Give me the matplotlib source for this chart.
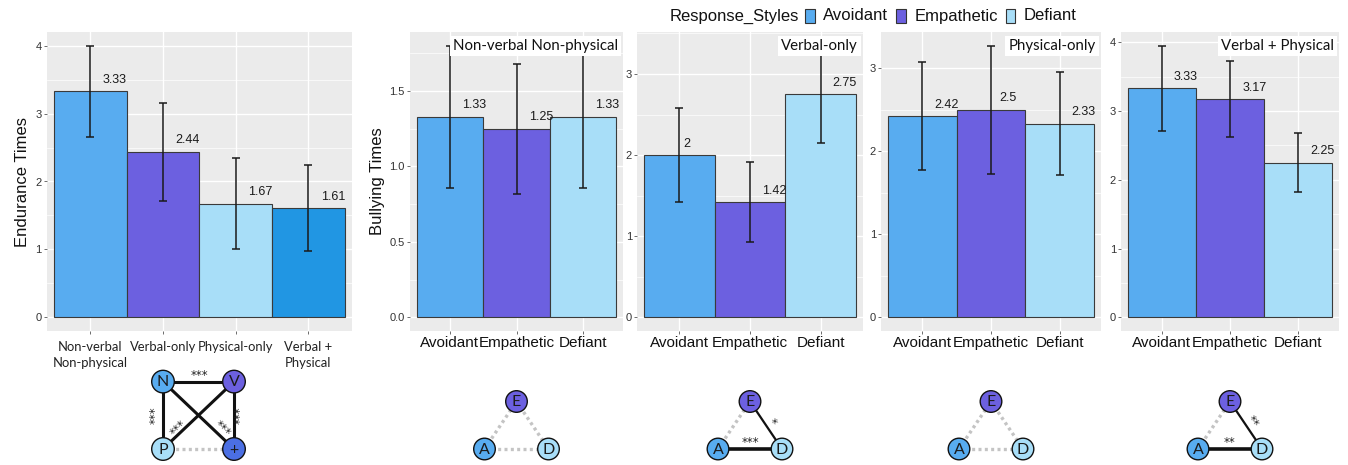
import matplotlib
matplotlib.use("Agg")
import matplotlib.pyplot as plt
from matplotlib.patches import Circle, Rectangle
from matplotlib.font_manager import FontProperties
from matplotlib.ticker import FixedLocator, FuncFormatter
import numpy as np

# ---------------- data ----------------
endurance_labels = ["Non-verbal\nNon-physical", "Verbal-only", "Physical-only", "Verbal +\nPhysical"]
endurance_means = [3.33, 2.44, 1.67, 1.61]
endurance_errors = [0.67, 0.72, 0.67, 0.64]

response_styles = ["Avoidant", "Empathetic", "Defiant"]
bullying_panels = ["Non-verbal Non-physical", "Verbal-only", "Physical-only", "Verbal + Physical"]
nn_means = [1.33, 1.25, 1.33]
nn_errors = [0.47, 0.43, 0.47]
vo_means = [2, 1.42, 2.75]
vo_errors = [0.58, 0.49, 0.60]
po_means = [2.42, 2.5, 2.33]
po_errors = [0.65, 0.77, 0.62]
vp_means = [3.33, 3.17, 2.25]
vp_errors = [0.62, 0.55, 0.43]
panel1_yticks = [0.0, 0.5, 1.0, 1.5]
panel2_yticks = [0, 1, 2, 3]
panel3_yticks = [0, 1, 2, 3]
panel4_yticks = [0, 1, 2, 3, 4]
endurance_yticks = [0, 1, 2, 3, 4]

endurance_nodes = ["N", "V", "P", "+"]
endurance_sig = [("N", "V", "***"), ("N", "P", "***"), ("V", "+", "***"),
                 ("N", "+", "***"), ("V", "P", "***"), ("P", "+", "")]
style_nodes = ["A", "E", "D"]
nn_sig = [("A", "E", ""), ("E", "D", ""), ("A", "D", "")]
vo_sig = [("A", "E", ""), ("E", "D", "*"), ("A", "D", "***")]
po_sig = [("A", "E", ""), ("E", "D", ""), ("A", "D", "")]
vp_sig = [("A", "E", ""), ("E", "D", "**"), ("A", "D", "**")]

# ---------------- styles ----------------
C_AVO = "#58ACF0"
C_EMP = "#6C60E0"
C_DEF = "#A8DEF8"
C_VP = "#2196E3"
endurance_colors = [C_AVO, C_EMP, C_DEF, C_VP]
style_colors = [C_AVO, C_EMP, C_DEF]
node_colors = {"N": C_AVO, "V": C_EMP, "P": C_DEF, "+": "#4B6FE3",
               "A": C_AVO, "E": C_EMP, "D": C_DEF}
PANEL_BG = "#EBEBEB"
NUM_FONT = "Liberation Sans"
SS_FONT = "Lato"

W, H = 1348, 465
fig = plt.figure(figsize=(W / 100, H / 100), dpi=100)
renderer = fig.canvas.get_renderer()


def px_axes(x0, x1, y0, y1):
    return fig.add_axes([x0 / W, (H - y1) / H, (x1 - x0) / W, (y1 - y0) / H])


def style_axes(ax, yticks, fmt, n):
    ax.set_facecolor(PANEL_BG)
    for s in ax.spines.values():
        s.set_visible(False)
    top = ax.get_ylim()[1]
    ax.yaxis.set_major_locator(FixedLocator(yticks))
    ax.yaxis.set_major_formatter(FuncFormatter(lambda v, p: fmt.format(v)))
    step = yticks[1] - yticks[0]
    minors = [t + step / 2 for t in yticks + [yticks[-1] + step] if 0 < t + step / 2 < top]
    ax.yaxis.set_minor_locator(FixedLocator(minors))
    ax.grid(which="major", color="white", linewidth=1.0)
    ax.grid(which="minor", axis="y", color="white", linewidth=0.5)
    ax.set_axisbelow(True)
    ax.tick_params(axis="both", which="major", length=2.2, width=0.6, color="#555555",
                   labelcolor="#333333", pad=1.5)
    ax.tick_params(axis="y", which="minor", length=0)
    ax.set_xlim(-0.6, n - 0.4)


def value_labels(ax, xs, means):
    fp = FontProperties(family=NUM_FONT, size=9)
    for x, m in zip(xs, means):
        s = f"{m:g}"
        w, h, d = renderer.get_text_width_height_descent(s, fp, ismath=False)
        ax.annotate(s, xy=(x, m), xytext=(w, 8.5), textcoords="offset pixels",
                    ha="center", va="baseline", fontproperties=fp, color="#1a1a1a",
                    zorder=5)


def bar_panel(ax, means, errors, colors):
    xs = np.arange(len(means))
    ax.bar(xs, means, width=1.0, color=colors, edgecolor="#3a3a3a", linewidth=0.8, zorder=2)
    ax.errorbar(xs, means, yerr=errors, fmt="none", ecolor="#1a1a1a", elinewidth=1.1,
                capsize=2.6, capthick=1.1, zorder=3)
    top = max(m + e for m, e in zip(means, errors))
    ax.set_ylim(-0.05 * top, 1.05 * top)
    return xs


# ---------------- left panel ----------------
axL = px_axes(46.7, 352, 32, 331)
xs = bar_panel(axL, endurance_means, endurance_errors, endurance_colors)
style_axes(axL, endurance_yticks, "{:g}", 4)
axL.set_xticks(xs)
axL.set_xticklabels(endurance_labels, fontfamily=SS_FONT, fontsize=9.4, color="#222222",
                    linespacing=1.4, va="top")
axL.tick_params(axis="x", pad=5)
for lab in axL.get_yticklabels():
    lab.set_fontfamily(NUM_FONT)
    lab.set_fontsize(8)
value_labels(axL, xs, endurance_means)
axL.set_ylabel("Endurance Times", fontfamily=NUM_FONT, fontsize=12, labelpad=4, color="#111111")

# ---------------- right panels ----------------
panel_px = [(410, 623), (637, 863), (881, 1101), (1121, 1339)]
panel_means = [nn_means, vo_means, po_means, vp_means]
panel_errors = [nn_errors, vo_errors, po_errors, vp_errors]
panel_ticks = [panel1_yticks, panel2_yticks, panel3_yticks, panel4_yticks]
panel_fmts = ["{:.1f}", "{:g}", "{:g}", "{:g}"]
panel_axes = []
for i, (x0, x1) in enumerate(panel_px):
    ax = px_axes(x0, x1, 32, 331)
    xs = bar_panel(ax, panel_means[i], panel_errors[i], style_colors)
    style_axes(ax, panel_ticks[i], panel_fmts[i], 3)
    ax.set_xticks(xs)
    ax.set_xticklabels(response_styles, fontfamily=NUM_FONT, fontsize=11, color="#111111")
    for lab in ax.get_yticklabels():
        lab.set_fontfamily(NUM_FONT)
        lab.set_fontsize(8)
    value_labels(ax, xs, panel_means[i])
    ax.annotate(bullying_panels[i], xy=(1, 1), xycoords="axes fraction",
                xytext=(-5, -14), textcoords="offset pixels", ha="right", va="center",
                fontfamily=SS_FONT, fontsize=10.8, color="#111111", zorder=10,
                bbox=dict(boxstyle="square,pad=0.22", fc="white", ec="none"))
    panel_axes.append(ax)
panel_axes[0].set_ylabel("Bullying Times", fontfamily=NUM_FONT, fontsize=12, labelpad=3,
                         color="#111111")

# ---------------- overlay: legend + networks ----------------
ov = fig.add_axes([0, 0, 1, 1])
ov.set_xlim(0, W)
ov.set_ylim(H, 0)
ov.axis("off")
ov.patch.set_visible(False)

lfp = FontProperties(family=NUM_FONT, size=12)
x = 670
ov.text(x, 16, "Response_Styles", fontproperties=lfp, ha="left", va="center", color="#111111")
x += renderer.get_text_width_height_descent("Response_Styles", lfp, ismath=False)[0] + 6
for name, col in zip(response_styles, style_colors):
    ov.add_patch(Rectangle((x, 9.5), 9.5, 14, facecolor=col, edgecolor="#333333", linewidth=0.8))
    x += 18
    ov.text(x, 16, name, fontproperties=lfp, ha="left", va="center", color="#111111")
    x += renderer.get_text_width_height_descent(name, lfp, ismath=False)[0] + 8

STAR_FONT = "DejaVu Sans"


def draw_network(pos, edges, radius, thick):
    for a, b, sig in edges:
        (xa, ya), (xb, yb) = pos[a], pos[b]
        if sig == "":
            ov.plot([xa, xb], [ya, yb], color="#C4C4C4", linewidth=2.4,
                    linestyle=(0, (0.9, 1.0)), solid_capstyle="butt", zorder=1)
        else:
            ov.plot([xa, xb], [ya, yb], color="#111111", linewidth=thick.get((a, b), 2.2),
                    solid_capstyle="butt", zorder=1)
    for name, (cx, cy) in pos.items():
        ov.add_patch(Circle((cx, cy), radius, facecolor=node_colors[name], edgecolor="#111111",
                            linewidth=1.0, zorder=3))
        ov.text(cx, cy + 0.5, name, ha="center", va="center", fontfamily=SS_FONT,
                fontweight="normal", fontsize=11.5, color="#1a1a1a", zorder=4)


def star(x, y, s, rot=0):
    ov.text(x, y, s, ha="center", va="center", fontfamily=STAR_FONT, fontsize=8.5,
            rotation=rot, rotation_mode="anchor", color="#222222", zorder=5)


# endurance network
cx, cy = 198.5, 415.3
epos = {"N": (cx - 35.5, cy - 33.7), "V": (cx + 35.5, cy - 33.7),
        "P": (cx - 35.5, cy + 33.7), "+": (cx + 35.5, cy + 33.7)}
draw_network(epos, endurance_sig, 11.3, {})
sig = {(a, b): s for a, b, s in endurance_sig}
star(cx + 1, cy - 40, sig[("N", "V")])
star(cx - 43, cy, sig[("N", "P")], 90)
star(cx + 42, cy, sig[("V", "+")], 90)
star(cx - 20, cy + 13, sig[("V", "P")], 45)
star(cx + 24, cy + 14, sig[("N", "+")], -45)

# response-style triangles
for (x0, x1), edges in zip(panel_px, [nn_sig, vo_sig, po_sig, vp_sig]):
    tx = (x0 + x1) / 2
    tpos = {"E": (tx, 401.5), "A": (tx - 32, 449), "D": (tx + 32, 449)}
    draw_network(tpos, edges, 10.8, {("A", "D"): 2.6, ("E", "D"): 1.6})
    for a, b, s in edges:
        if s == "":
            continue
        if (a, b) == ("A", "D"):
            star(tx, 442.5, s)
        else:
            star(tx + 22, 422, s, -56)

fig.savefig("out.png", dpi=100)
